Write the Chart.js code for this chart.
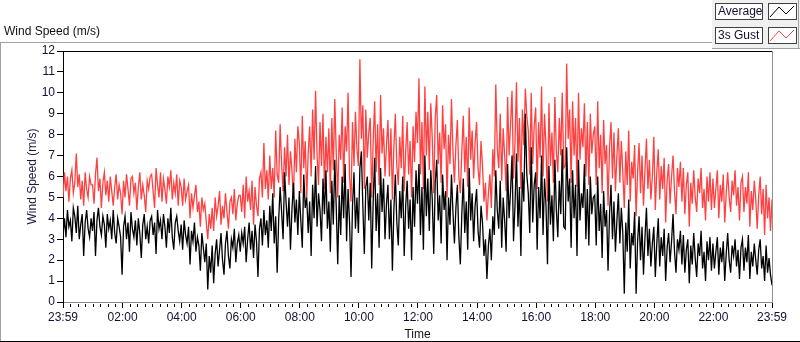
<!DOCTYPE html>
<html>
<head>
<meta charset="utf-8">
<script src="https://cdn.jsdelivr.net/npm/chart.js@4"></script>
<style>
  body { margin: 0; background: #fff; }
  #wrap { width: 800px; height: 342px; }
</style>
</head>
<body>
<div id="wrap"><canvas id="wind" width="800" height="342"></canvas></div>
<script>
// samples every 3 minutes from 23:59 to 23:59 (20 per hour, one row pair per hour)
const avgSpeed = [
  3.2, 4.0, 3.1, 4.4, 3.6, 3.9, 2.9, 4.5, 4.1, 3.3,
  4.6, 3.0, 3.7, 4.2, 2.2, 3.8, 4.4, 3.5, 3.1, 4.0,
  3.4, 4.3, 2.2, 3.9, 4.5, 3.6, 3.2, 4.1, 3.7, 2.6,
  4.2, 3.5, 3.9, 3.0, 4.4, 3.3, 2.8, 4.0, 3.6, 3.1,
  1.3, 3.6, 4.1, 3.0, 3.8, 2.4, 4.3, 3.5, 3.1, 3.9,
  2.7, 4.0, 3.3, 2.1, 3.7, 4.2, 3.0, 3.6, 2.8, 3.9,
  4.1, 3.2, 3.8, 2.3, 4.4, 3.5, 3.9, 3.0, 4.2, 3.6,
  2.6, 4.0, 3.3, 4.5, 3.1, 2.5, 3.8, 4.1, 3.4, 2.9,
  3.7, 2.5, 3.9, 3.2, 2.8, 3.6, 1.8, 3.4, 2.9, 3.8,
  2.4, 3.1, 2.7, 1.5, 3.3, 2.6, 1.9, 2.8, 0.6, 2.2,
  1.4, 2.7, 0.9, 2.3, 3.0, 1.7, 2.5, 3.3, 2.0, 1.3,
  2.8, 3.4, 2.2, 1.6, 3.0, 2.6, 3.5, 1.9, 2.8, 3.2,
  2.4, 3.3, 2.8, 3.6, 1.9, 3.0, 3.8, 2.5, 3.4, 2.1,
  3.7, 2.9, 1.2, 3.5, 4.0, 2.7, 4.4, 3.2, 3.9, 2.6,
  4.6, 3.4, 5.2, 2.8, 4.1, 1.4, 3.9, 5.5, 4.3, 3.0,
  6.2, 4.8, 3.6, 5.0, 2.5, 4.4, 5.7, 3.8, 4.9, 3.2,
  5.3, 3.9, 2.6, 6.1, 4.5, 5.0, 3.3, 4.8, 2.2, 5.6,
  4.0, 6.5, 3.6, 5.2, 4.4, 2.9, 5.9, 4.2, 6.3, 3.5,
  4.8, 2.4, 5.8, 3.7, 6.8, 4.5, 1.8, 5.1, 3.2, 6.0,
  4.0, 6.6, 2.9, 5.4, 3.8, 1.2, 4.6, 6.2, 3.5, 5.0,
  3.3, 6.4, 7.2, 4.6, 2.3, 5.5, 6.0, 3.9, 5.7, 1.6,
  4.8, 6.9, 3.4, 5.2, 2.6, 6.4, 4.3, 5.9, 3.0, 4.7,
  5.6, 3.0, 4.9, 1.5, 4.4, 6.1, 3.8, 2.7, 5.3, 4.0,
  6.0, 2.2, 4.6, 5.8, 3.5, 4.9, 2.0, 5.5, 3.6, 6.3,
  4.7, 6.6, 3.2, 5.5, 2.5, 7.0, 4.1, 5.9, 3.4, 6.3,
  4.9, 2.3, 5.7, 6.8, 3.9, 5.1, 2.8, 6.1, 4.4, 5.3,
  2.0, 5.0, 3.7, 6.1, 4.3, 2.8, 4.5, 5.6, 3.1, 1.8,
  4.2, 5.9, 3.3, 4.8, 2.5, 6.4, 3.9, 5.2, 2.9, 4.6,
  5.4, 3.4, 2.6, 4.6, 3.8, 2.2, 3.0, 1.1, 2.7, 3.5,
  2.0, 4.1, 3.2, 6.3, 4.4, 3.5, 5.8, 2.6, 5.0, 3.9,
  2.4, 6.6, 4.0, 5.3, 7.0, 2.9, 4.6, 7.1, 3.6, 5.5,
  2.2, 6.2, 4.8, 9.0, 6.1, 5.2, 3.3, 7.4, 3.8, 5.6,
  6.2, 2.5, 5.5, 4.0, 7.0, 3.2, 5.9, 4.6, 1.8, 6.5,
  3.7, 5.1, 2.9, 6.8, 4.4, 3.1, 5.8, 4.2, 7.3, 3.6,
  3.5, 7.4, 4.8, 5.9, 2.6, 6.3, 4.0, 5.6, 2.2, 6.8,
  3.9, 5.2, 4.5, 6.6, 3.0, 5.4, 2.7, 6.0, 4.2, 5.0,
  5.1, 2.7, 6.0, 3.4, 4.7, 2.1, 5.3, 3.6, 4.4, 1.5,
  4.2, 5.6, 3.0, 4.8, 2.4, 3.9, 5.2, 2.8, 4.5, 3.3,
  0.4, 3.8, 2.4, 4.9, 1.6, 3.3, 2.7, 4.3, 0.4, 2.9,
  4.1, 2.0, 3.6, 1.3, 3.1, 4.5, 2.2, 3.5, 1.7, 2.8,
  3.6, 1.2, 2.8, 4.0, 1.7, 3.1, 2.2, 3.5, 1.0, 2.6,
  3.3, 1.9, 2.9, 4.2, 2.4, 1.4, 3.0, 2.5, 3.4, 1.8,
  3.2, 1.4, 2.5, 3.0, 0.9, 2.7, 1.8, 3.3, 2.1, 1.2,
  2.8, 2.2, 3.4, 1.6, 2.4, 1.0, 2.9, 2.0, 3.1, 1.5,
  2.8, 1.6, 2.4, 3.1, 1.3, 2.6, 1.9, 2.9, 1.0, 2.3,
  3.3, 2.0, 1.4, 2.7, 2.2, 3.0, 1.7, 2.5, 1.1, 2.6,
  3.0, 1.5, 2.6, 1.9, 3.2, 1.1, 2.4, 1.7, 2.8, 2.0,
  1.3, 2.5, 3.0, 1.6, 2.2, 1.0, 2.7, 1.4, 2.1, 1.3,
  0.8
]

const gustSpeed = [
  5.0, 6.2, 5.3, 6.0, 4.8, 5.9, 6.3, 5.2, 5.7, 7.1,
  5.5, 6.1, 4.9, 5.8, 4.6, 6.2, 5.4, 5.0, 6.0, 5.6,
  5.6, 4.7, 6.1, 6.9, 5.3, 5.9, 4.5, 5.7, 6.2, 5.1,
  5.8, 4.8, 6.0, 5.3, 4.6, 5.5, 6.1, 4.9, 5.6, 5.2,
  4.2, 5.8, 5.0, 6.1, 5.4, 4.6, 5.9, 6.0, 5.2, 5.7,
  4.4, 5.5, 6.2, 4.9, 5.6, 5.1, 4.3, 5.8, 5.4, 6.0,
  6.1, 5.3, 4.5, 6.4, 5.6, 5.0, 6.2, 4.8, 5.9, 5.4,
  4.7, 6.0, 5.5, 6.3, 4.9, 5.7, 5.2, 6.1, 4.6, 5.8,
  5.5, 4.6, 5.9, 4.9, 5.3, 5.6, 4.0, 5.2, 4.5, 5.1,
  5.6, 4.3, 4.8, 3.6, 5.0, 4.4, 4.7, 3.8, 3.0, 4.2,
  3.5, 4.5, 3.4, 5.0, 4.1, 4.6, 5.3, 3.7, 4.6, 4.0,
  5.2, 4.3, 3.5, 4.8, 5.0, 4.2, 5.4, 3.9, 4.7, 5.1,
  5.1, 4.3, 5.6, 4.0, 6.0, 4.8, 5.3, 4.4, 5.8, 3.7,
  5.5, 4.6, 4.1, 5.9, 6.2, 5.0, 7.6, 5.4, 6.3, 4.9,
  7.0, 5.4, 6.4, 5.0, 8.2, 6.1, 5.7, 8.5, 6.6, 5.3,
  7.4, 6.0, 8.0, 5.6, 7.2, 6.3, 4.9, 7.8, 6.2, 8.4,
  7.6, 5.2, 8.9, 6.4, 7.7, 5.0, 7.1, 8.4, 6.0, 9.2,
  6.8, 10.1, 7.0, 5.6, 8.6, 6.5, 9.0, 5.4, 7.9, 6.2,
  8.3, 5.2, 8.8, 6.3, 9.7, 7.1, 5.0, 8.0, 6.8, 9.3,
  5.7, 8.4, 7.2, 10.0, 6.0, 4.8, 8.6, 6.5, 9.1, 7.3,
  6.5, 11.6, 7.8, 9.4, 5.4, 9.2, 6.9, 8.1, 8.8, 5.0,
  7.7, 9.6, 6.2, 8.5, 5.6, 9.9, 7.1, 8.3, 6.0, 7.5,
  8.7, 6.0, 8.3, 4.9, 7.4, 9.0, 6.5, 5.6, 7.9, 6.4,
  8.9, 5.3, 7.2, 8.6, 6.1, 7.7, 5.0, 8.4, 6.7, 9.1,
  7.6, 10.7, 6.1, 8.6, 5.4, 10.3, 7.0, 9.1, 6.3, 9.5,
  7.8, 5.2, 8.8, 9.9, 6.6, 8.1, 5.7, 9.4, 7.3, 8.5,
  5.0, 8.0, 6.6, 9.7, 7.2, 5.7, 7.5, 8.7, 6.0, 5.2,
  7.2, 8.9, 6.2, 7.9, 5.5, 9.3, 6.8, 8.2, 5.9, 7.6,
  8.6, 6.4, 5.6, 7.7, 6.5, 4.8, 5.7, 3.9, 5.2, 6.1,
  4.5, 7.3, 6.0, 10.4, 7.4, 6.4, 9.0, 5.8, 8.3, 7.0,
  5.3, 9.8, 7.0, 8.5, 10.1, 5.9, 7.6, 10.5, 6.7, 8.8,
  5.4, 9.2, 7.5, 10.2, 8.9, 8.2, 6.1, 10.0, 6.6, 8.4,
  9.3, 5.4, 8.6, 6.9, 10.3, 6.0, 9.0, 7.4, 4.8, 9.5,
  6.5, 8.1, 5.7, 9.8, 7.2, 6.2, 8.8, 7.0, 10.0, 6.4,
  6.5, 11.4, 7.8, 9.2, 5.7, 9.6, 7.0, 8.8, 5.5, 10.0,
  6.8, 8.3, 7.4, 9.5, 6.0, 8.6, 5.6, 9.0, 7.1, 8.0,
  8.4, 5.6, 9.6, 6.4, 8.0, 5.2, 8.7, 6.6, 7.5, 4.6,
  7.4, 8.6, 5.9, 8.1, 5.3, 7.0, 8.3, 5.7, 7.7, 6.2,
  4.5, 7.2, 5.6, 8.2, 4.8, 6.7, 5.9, 7.5, 4.1, 6.2,
  7.6, 5.2, 7.0, 4.6, 6.3, 7.8, 5.4, 6.8, 4.9, 6.0,
  7.9, 4.4, 6.2, 7.3, 4.9, 6.5, 5.4, 6.9, 3.8, 5.8,
  6.6, 4.7, 6.0, 7.0, 5.3, 4.2, 6.4, 5.5, 6.7, 4.8,
  6.4, 4.2, 5.6, 6.2, 3.6, 5.7, 4.7, 6.3, 5.0, 4.3,
  5.9, 5.2, 6.4, 4.5, 5.4, 3.9, 6.0, 4.8, 6.2, 4.4,
  5.9, 4.5, 5.4, 6.3, 4.0, 5.6, 4.8, 6.1, 3.8, 5.2,
  6.2, 5.0, 4.3, 5.8, 5.1, 6.3, 4.6, 5.5, 3.9, 5.7,
  6.0, 4.3, 5.5, 4.7, 6.2, 3.6, 5.3, 4.4, 5.8, 4.9,
  3.5, 5.1, 6.0, 4.2, 5.4, 3.2, 5.6, 4.0, 5.0, 3.4,
  4.9
]

// x axis labels, in minutes after 23:59
const tickMinutes = [0, 121, 241, 361, 481, 601, 721, 841, 961, 1081, 1201, 1321, 1440]
const tickLabels = ['23:59', '02:00', '04:00', '06:00', '08:00', '10:00', '12:00',
  '14:00', '16:00', '18:00', '20:00', '22:00', '23:59']

const seriesNames = ['Average', '3s Gust']
const seriesColors = ['#000000', '#ff4040']

const FONT = 'Liberation Sans, Arial, sans-serif'

// spread the samples evenly over the 1440 minutes of the day
const toPoints = arr => arr.map((v, i) => ({x: i * 1440 / (arr.length - 1), y: v}))

// frame, plot border, minor ticks, title and legend boxes (LabVIEW look)
const decorations = {
    id: 'decorations',
    beforeDraw(chart) {
        const ctx = chart.ctx
        ctx.save()
        ctx.fillStyle = '#a0a0a0'
        ctx.fillRect(0, 42, 712, 1)
        ctx.fillRect(0, 42, 1, 300)
        ctx.fillStyle = '#000'
        ctx.fillRect(0, 341, 800, 1)
        // legend panel
        ctx.fillStyle = '#f0f0f0'
        ctx.fillRect(712, 0, 88, 49)
        ctx.fillStyle = '#a0a0a0'
        ctx.fillRect(712, 48, 88, 1)
        ctx.fillRect(798, 0, 1, 49)
        ctx.restore()
    },
    afterDraw(chart) {
        const {ctx, chartArea: a, scales: {x}} = chart
        ctx.save()
        ctx.fillStyle = '#000'
        ctx.fillRect(a.left, a.top, a.right - a.left, 1)
        ctx.fillStyle = '#909090'
        ctx.fillRect(a.right, a.top, 1, a.bottom - a.top + 1)

        // minor ticks, 8 per 2 hour step
        ctx.fillStyle = '#000'
        for (let i = 0; i < tickMinutes.length - 1; i++) {
            const m0 = tickMinutes[i], m1 = tickMinutes[i + 1]
            for (let k = 1; k < 8; k++) {
                const px = Math.round(x.getPixelForValue(m0 + (m1 - m0) * k / 8))
                ctx.fillRect(px, a.bottom + 2, 1, 3)
            }
        }

        ctx.font = '12px ' + FONT
        ctx.textBaseline = 'middle'
        ctx.fillStyle = '#111'
        ctx.fillText('Wind Speed (m/s)', 4, 32)

        // legend
        seriesNames.forEach((name, i) => {
            const y0 = 3 + i * 24
            ctx.fillStyle = '#fff'
            ctx.fillRect(715, y0, 47, 16)
            ctx.fillRect(768, y0, 28, 16)
            ctx.strokeStyle = '#404040'
            ctx.lineWidth = 1
            ctx.strokeRect(715.5, y0 + 0.5, 47, 16)
            ctx.strokeRect(768.5, y0 + 0.5, 28, 16)
            ctx.fillStyle = '#101030'
            ctx.fillText(name, 718, y0 + 9)
            ctx.strokeStyle = seriesColors[i]
            ctx.beginPath()
            ctx.moveTo(770, y0 + 14)
            ctx.lineTo(779, y0 + 4)
            ctx.lineTo(786, y0 + 11)
            ctx.lineTo(794, y0 + 3)
            ctx.stroke()
        })
        ctx.restore()
    }
}

const windCtx = document.getElementById('wind').getContext('2d')
const windChart = new Chart(windCtx, {
    type: 'line',
    data: {
        datasets: [
            {label: seriesNames[0], data: toPoints(avgSpeed), borderColor: seriesColors[0], order: 0},
            {label: seriesNames[1], data: toPoints(gustSpeed), borderColor: seriesColors[1], order: 1}
        ]
    },
    options: {
        responsive: false,
        devicePixelRatio: 1,
        animation: false,
        layout: {padding: {top: 51, right: 28, left: 0, bottom: 0}},
        elements: {
            point: {radius: 0},
            line: {borderWidth: 1.3, tension: 0}
        },
        plugins: {legend: {display: false}, tooltip: {enabled: false}},
        scales: {
            x: {
                type: 'linear',
                min: 0,
                max: 1440,
                afterBuildTicks: s => { s.ticks = tickMinutes.map(v => ({value: v})) },
                afterFit: s => { s.height = 40 },
                grid: {drawOnChartArea: false, tickLength: 6, color: '#000'},
                border: {color: '#8a8a8a'},
                ticks: {
                    autoSkip: false, maxRotation: 0, padding: 2,
                    color: '#101030', font: {family: FONT, size: 12},
                    callback: (v, i) => tickLabels[i]
                },
                title: {display: true, text: 'Time', color: '#111', font: {family: FONT, size: 12}, padding: {top: 0, bottom: 0}}
            },
            y: {
                min: 0,
                max: 12,
                afterFit: s => { s.width = 63 },
                grid: {drawOnChartArea: false, tickLength: 6, color: '#000'},
                border: {color: '#000'},
                ticks: {stepSize: 1, padding: 2, color: '#101030', font: {family: FONT, size: 12}},
                title: {display: true, text: 'Wind Speed (m/s)', color: '#1c1c3c', font: {family: FONT, size: 12}, padding: {top: 25, bottom: 0}}
            }
        }
    },
    plugins: [decorations]
})
</script>
</body>
</html>
